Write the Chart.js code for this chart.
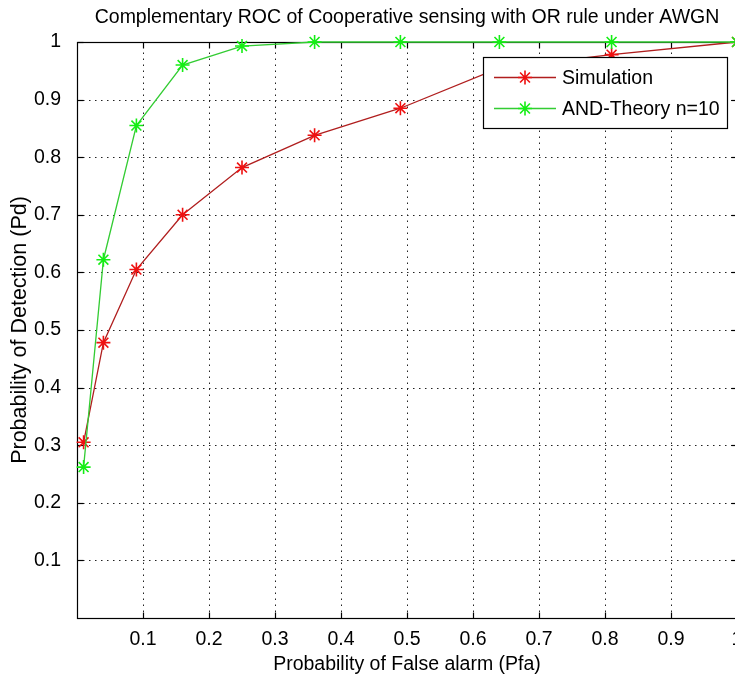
<!DOCTYPE html>
<html><head><meta charset="utf-8">
<script src="https://cdn.jsdelivr.net/npm/chart.js@4/dist/chart.umd.min.js"></script>
<style>
html,body{margin:0;padding:0;background:#fff;overflow:hidden;}
#wrap{width:735px;height:680px;overflow:hidden;position:relative;background:#fff;}
canvas{display:block;}
</style></head><body>
<div id="wrap"><canvas id="c" width="760" height="680"></canvas></div>
<script>
// ---- data ----
const pfa = [0.01, 0.04, 0.09, 0.16, 0.25, 0.36, 0.49, 0.64, 0.81, 1.0];
const pdSimulation = [0.305, 0.478, 0.605, 0.700, 0.782, 0.838, 0.885, 0.955, 0.978, 1.0];
const pdTheory = [0.262, 0.622, 0.855, 0.960, 0.993, 1.0, 1.0, 1.0, 1.0, 1.0];
const xTicks = [0.1, 0.2, 0.3, 0.4, 0.5, 0.6, 0.7, 0.8, 0.9, 1];
const yTicks = [0.1, 0.2, 0.3, 0.4, 0.5, 0.6, 0.7, 0.8, 0.9, 1];
const seriesNames = ['Simulation', 'AND-Theory n=10'];
const titleText = 'Complementary ROC of Cooperative sensing with OR rule under AWGN';
const xLabel = 'Probability of False alarm (Pfa)';
const yLabel = 'Probability of Detection (Pd)';

// ---- font selection ----
function hasFont(name){
  const c = document.createElement('canvas').getContext('2d');
  const s = 'Simulation AND-Theory 0.123 WWmm';
  c.font = '40px monospace'; const a = c.measureText(s).width;
  c.font = '40px "' + name + '", monospace'; const b = c.measureText(s).width;
  return Math.abs(a - b) > 0.5;
}
const narrow = hasFont('Liberation Sans Narrow');
const fam = narrow ? '"Liberation Sans Narrow", "Liberation Sans", Arial, sans-serif'
                   : '"Liberation Sans", Arial, sans-serif';
const fs = narrow ? 23.5 : 19.5;
const lh = fs * 1.2;
const yfs = 21.5, ylh = yfs * 1.2;

const colSimLine = '#b01e1e', colSimMark = '#ee1010';
const colThLine = '#33cc33', colThMark = '#14ee14';

function star(ctx, cx, cy, r){
  const d = r * Math.SQRT1_2;
  ctx.beginPath();
  ctx.moveTo(cx - r, cy); ctx.lineTo(cx + r, cy);
  ctx.moveTo(cx, cy - r); ctx.lineTo(cx, cy + r);
  ctx.moveTo(cx - d, cy - d); ctx.lineTo(cx + d, cy + d);
  ctx.moveTo(cx - d, cy + d); ctx.lineTo(cx + d, cy - d);
  ctx.stroke();
}

const framePlugin = {
  id: 'frame',
  beforeDatasetsDraw(chart){
    const {ctx, chartArea: a, scales: {x, y}} = chart;
    ctx.save();
    ctx.strokeStyle = '#222';
    ctx.lineWidth = 1;
    ctx.setLineDash([1.5, 4.5]);
    xTicks.forEach(v => {
      if (v >= 1) return;
      const px = Math.round(x.getPixelForValue(v)) + 0.5;
      ctx.beginPath(); ctx.moveTo(px, a.bottom); ctx.lineTo(px, a.top); ctx.stroke();
    });
    yTicks.forEach(v => {
      if (v >= 1) return;
      const py = Math.round(y.getPixelForValue(v)) + 0.5;
      ctx.beginPath(); ctx.moveTo(a.left, py); ctx.lineTo(a.right, py); ctx.stroke();
    });
    ctx.setLineDash([]);
    ctx.strokeStyle = '#000';
    ctx.lineWidth = 1.2;
    const L = Math.round(a.left) + 0.5, R = Math.round(a.right) + 0.5,
          T = Math.round(a.top) + 0.5, B = Math.round(a.bottom) + 0.5;
    ctx.strokeRect(L, T, R - L, B - T);
    const tl = 6;
    xTicks.forEach(v => {
      const px = Math.round(x.getPixelForValue(v)) + 0.5;
      ctx.beginPath(); ctx.moveTo(px, B); ctx.lineTo(px, B - tl); ctx.stroke();
      ctx.beginPath(); ctx.moveTo(px, T); ctx.lineTo(px, T + tl); ctx.stroke();
    });
    yTicks.forEach(v => {
      const py = Math.round(y.getPixelForValue(v)) + 0.5;
      ctx.beginPath(); ctx.moveTo(L, py); ctx.lineTo(L + tl, py); ctx.stroke();
      ctx.beginPath(); ctx.moveTo(R, py); ctx.lineTo(R - tl, py); ctx.stroke();
    });
    ctx.restore();
  },
  afterDatasetsDraw(chart){
    const {ctx} = chart;
    const bx = 483.5, by = 57.5, bw = 244, bh = 71;
    ctx.save();
    ctx.fillStyle = '#fff';
    ctx.fillRect(bx, by, bw, bh);
    ctx.strokeStyle = '#000';
    ctx.lineWidth = 1.2;
    ctx.strokeRect(bx, by, bw, bh);
    const rows = [77, 108];
    chart.data.datasets.forEach((ds, i) => {
      const yy = rows[i] + 0.5;
      ctx.strokeStyle = ds.borderColor;
      ctx.lineWidth = 1.3;
      ctx.beginPath(); ctx.moveTo(494, yy); ctx.lineTo(556, yy); ctx.stroke();
      ctx.strokeStyle = ds.pointBorderColor;
      ctx.lineWidth = 1.6;
      star(ctx, 525, yy, 7);
      ctx.fillStyle = '#000';
      ctx.font = fs + 'px ' + fam;
      ctx.textBaseline = 'middle';
      ctx.textAlign = 'left';
      ctx.fillText(ds.label, 562, yy + 1);
    });
    ctx.restore();
  }
};

const titlePadTop = 18 - lh / 2;

new Chart(document.getElementById('c'), {
  type: 'line',
  data: {
    datasets: [
      {
        label: seriesNames[0],
        data: pfa.map((v, i) => ({x: v, y: pdSimulation[i]})),
        borderColor: colSimLine, borderWidth: 1.3,
        pointStyle: 'star', pointRadius: 7, pointBorderWidth: 1.6,
        pointBorderColor: colSimMark, pointBackgroundColor: colSimMark,
        tension: 0, clip: false, order: 2
      },
      {
        label: seriesNames[1],
        data: pfa.map((v, i) => ({x: v, y: pdTheory[i]})),
        borderColor: colThLine, borderWidth: 1.3,
        pointStyle: 'star', pointRadius: 7, pointBorderWidth: 1.6,
        pointBorderColor: colThMark, pointBackgroundColor: colThMark,
        tension: 0, clip: false, order: 1
      }
    ]
  },
  options: {
    responsive: false,
    animation: false,
    devicePixelRatio: 1,
    layout: {padding: {left: 0, right: 23, top: 0, bottom: 0}},
    plugins: {
      legend: {display: false},
      tooltip: {enabled: false},
      title: {
        display: true, text: titleText, color: '#000', fullSize: false,
        font: {family: fam, size: fs, weight: 'normal', lineHeight: 1.2},
        padding: {top: titlePadTop, bottom: 42 - lh - titlePadTop}
      }
    },
    scales: {
      x: {
        type: 'linear', min: 0, max: 1,
        afterBuildTicks: s => { s.ticks = xTicks.map(v => ({value: v})); },
        afterFit: s => { s.height = 62; },
        grid: {display: false},
        border: {display: false},
        ticks: {
          color: '#000', padding: 2, maxRotation: 0, autoSkip: false,
          font: {family: fam, size: fs, lineHeight: 1.2},
          callback: v => (v === 1 ? '1' : v.toFixed(1))
        },
        title: {
          display: true, text: xLabel, color: '#000',
          font: {family: fam, size: fs, lineHeight: 1.2},
          padding: {top: 0, bottom: 15 - lh / 2}
        }
      },
      y: {
        type: 'linear', min: 0, max: 1,
        afterBuildTicks: s => { s.ticks = yTicks.map(v => ({value: v})); },
        afterFit: s => { s.width = 77; },
        grid: {display: false},
        border: {display: false},
        ticks: {
          color: '#000', padding: 8, autoSkip: false,
          font: {family: fam, size: fs, lineHeight: 1.2},
          callback: v => (v === 1 ? '1' : v.toFixed(1))
        },
        title: {
          display: true, text: yLabel, color: '#000',
          font: {family: '"Liberation Sans", Arial, sans-serif', size: yfs, lineHeight: 1.2},
          padding: {top: 20 - ylh / 2, bottom: 0}
        }
      }
    }
  },
  plugins: [framePlugin]
});
</script>
</body></html>
